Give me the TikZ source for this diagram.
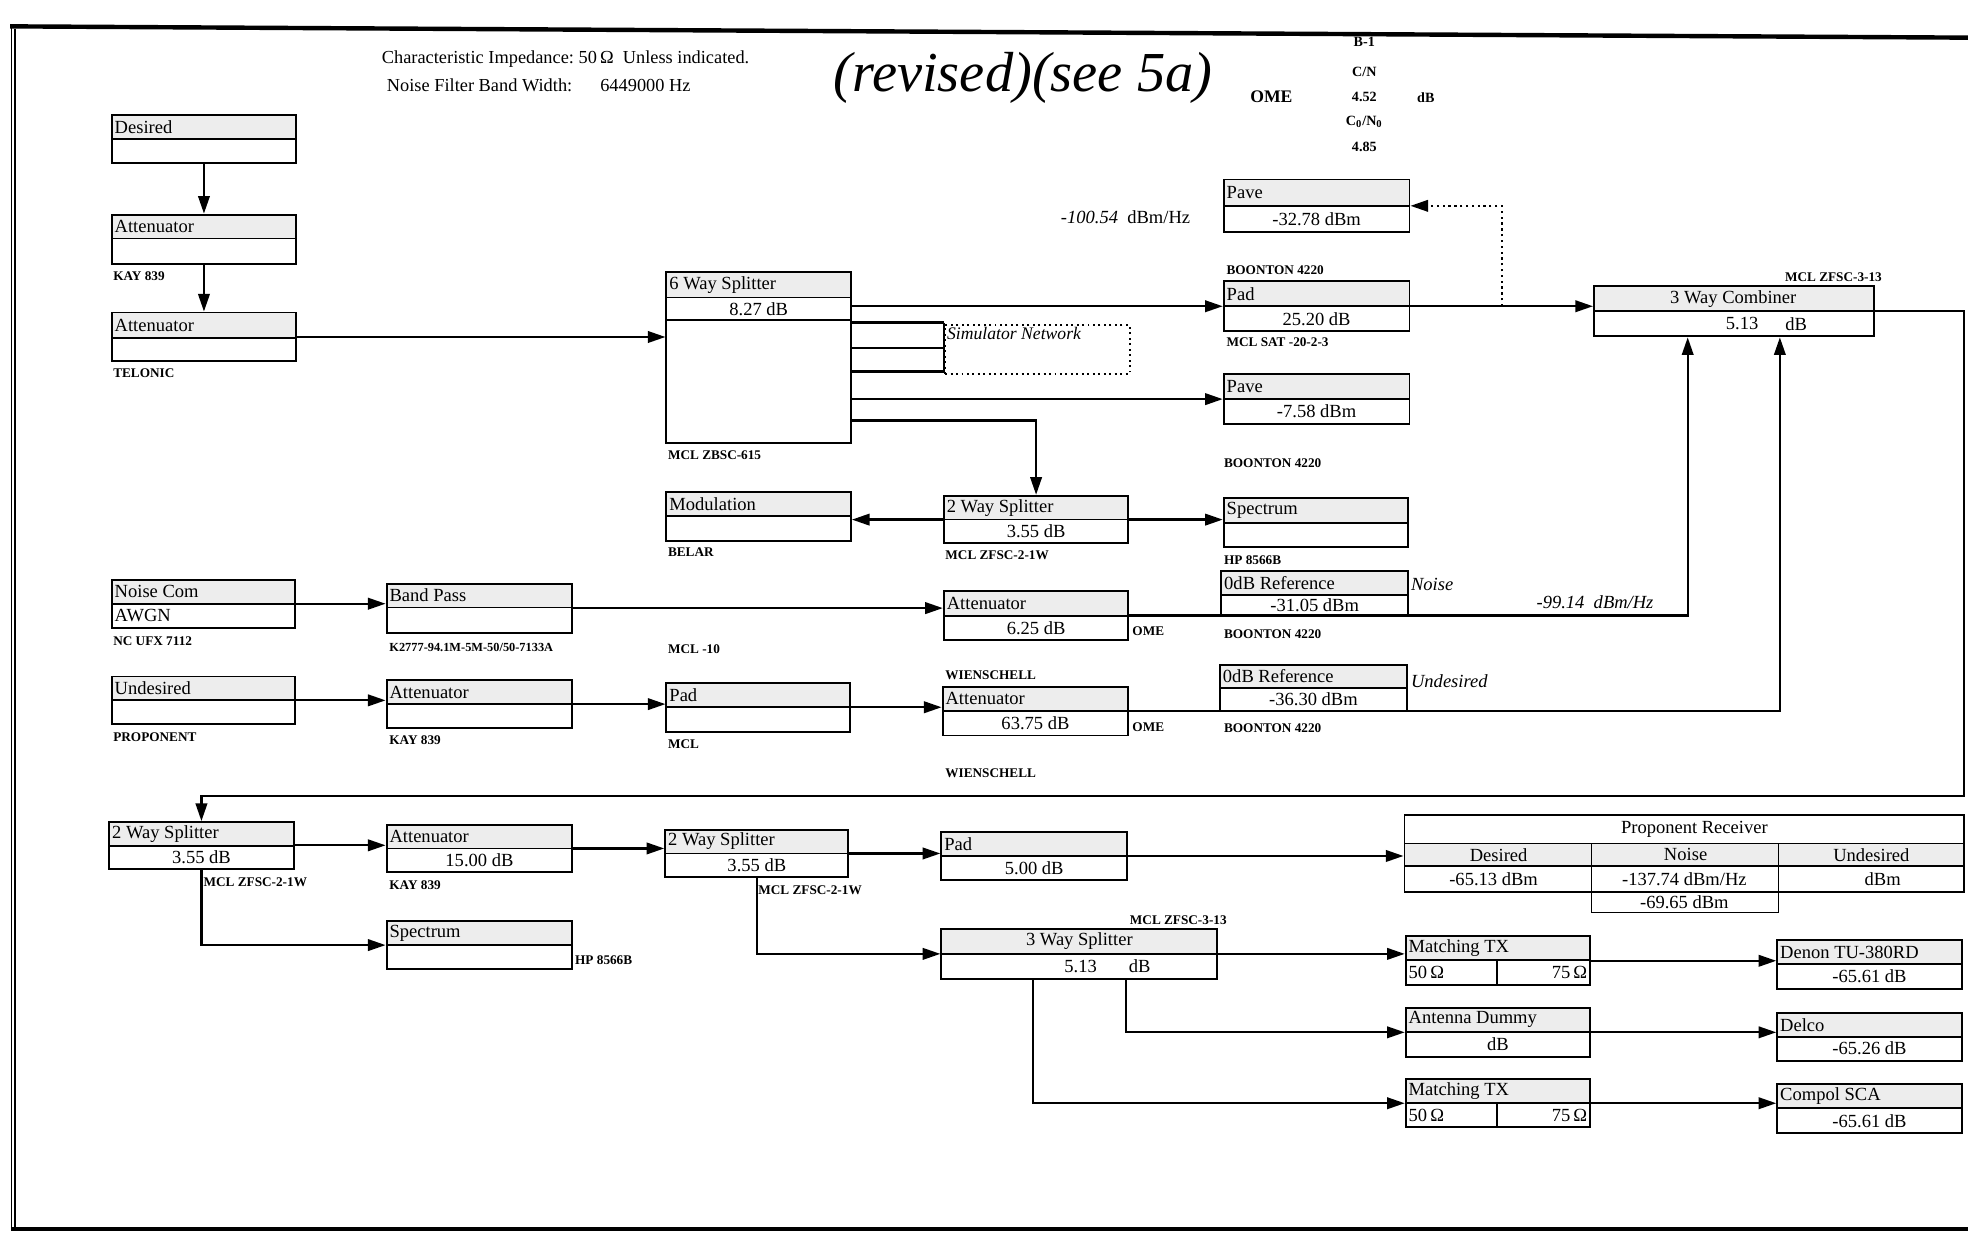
\documentclass[tikz,border=0pt]{standalone}
\usepackage{fontspec}
\setmainfont{Liberation Serif}
\usetikzlibrary{arrows.meta,fit,calc}

\tikzset{
  boxframe/.style={draw, line width=1.1pt, inner sep=0pt},
  hdr/.style={fill=black!7},
  divl/.style={line width=1pt},
  lbl/.style={font=\fontsize{10.5}{12}\selectfont, inner sep=1.5pt, anchor=west},
  val/.style={font=\fontsize{10.5}{12}\selectfont, inner sep=1pt},
  tag/.style={font=\bfseries\fontsize{7.5}{9}\selectfont, inner sep=0pt, anchor=west},
  note/.style={font=\fontsize{10.5}{12}\selectfont, inner sep=0pt, anchor=west},
  wire/.style={line width=1.3pt},
  arr/.style={wire, -{Triangle[length=10pt,width=6.5pt]}},
}

% name, x1, y1, x2, y2, ydiv, label, value
\newcommand\blk[8]{%
  \fill[hdr] (#2,#3) rectangle (#4,#6);
  \draw[divl] (#2,#6) -- (#4,#6);
  \node[boxframe, fit={(#2,#3) (#4,#5)}] (#1) {};
  \node[lbl] (#1-l) at (#2,{(#3+#6)/2}) {#7};
  \node[val] (#1-v) at ({(#2+#4)/2},{(#6+#5)/2}) {#8};
}

\begin{document}
\begin{tikzpicture}[x=0.025cm,y=-0.025cm]
\useasboundingbox (0,0) rectangle (1568,998);

% frame
\draw[line width=2.5pt] (8,21) -- (1568,30);
\draw[line width=0.8pt] (9,21) -- (9,980);
\draw[line width=0.8pt] (12,23) -- (12,978);
\draw[line width=2pt] (9,979) -- (1568,979);

% header
\node[note, font=\fontsize{10.4}{12}\selectfont] (h1) at (304,47) {Characteristic Impedance:\ 50\,Ω\ \ Unless indicated.};
\node[note, font=\fontsize{10.4}{12}\selectfont] (h2) at (308,68) {Noise Filter Band Width:};
\node[note, font=\fontsize{10.4}{12}\selectfont] (h3) at (478,68) {6449000 Hz};
\node[font=\itshape\fontsize{32}{32}\selectfont, inner sep=0pt] (hand) at (815,62) {(revised)(see 5a)};
\node[font=\bfseries\fontsize{10}{12}\selectfont, inner sep=0pt] (ome0) at (1013,77) {OME};
\node[font=\bfseries\fontsize{8}{9}\selectfont, inner sep=0pt] (b1) at (1087,33) {B-1};
\node[font=\bfseries\fontsize{8}{9}\selectfont, inner sep=0pt] (cn) at (1087,57) {C/N};
\node[font=\bfseries\fontsize{8}{9}\selectfont, inner sep=0pt] (cnv) at (1087,77) {4.52};
\node[font=\bfseries\fontsize{8}{9}\selectfont, inner sep=0pt] (cndb) at (1136,78) {dB};
\node[font=\bfseries\fontsize{8}{9}\selectfont, inner sep=0pt] (c0n0) at (1087,97) {C\textsubscript{0}/N\textsubscript{0}};
\node[font=\bfseries\fontsize{8}{9}\selectfont, inner sep=0pt] (c0n0v) at (1087,117) {4.85};

% left column
\blk{des}{89}{92}{236}{130}{111}{Desired}{}
\blk{att1}{89}{171}{236}{210}{190}{Attenuator}{}
\node[tag] (t-att1) at (90,220) {KAY 839};
\blk{att2}{89}{249}{236}{288}{269}{Attenuator}{}
\node[tag] (t-att2) at (90,297) {TELONIC};

% 6 way splitter
\fill[hdr] (531,217) rectangle (678,237);
\draw[divl] (531,237) -- (678,237);
\draw[divl] (531,255) -- (678,255);
\node[boxframe, fit={(531,217) (678,353)}] (split6) {};
\node[lbl] (split6-l) at (531,227) {6 Way Splitter};
\node[val] (split6-v) at (604.5,246) {8.27 dB};
\node[tag] (t-split6) at (532,363) {MCL ZBSC-615};

% simulator network
\node[draw, dotted, line width=1.1pt, inner sep=0pt, fit={(753,259) (900,298)}] (sim) {};
\node[anchor=north west, inner sep=1.5pt, font=\itshape\fontsize{10}{12}\selectfont] (sim-l) at (sim.north west) {Simulator Network};

% top right measurement chain
\blk{pave1}{975}{143}{1123}{185}{164}{Pave}{-32.78 dBm}
\node[note] (n100) at (845,173) {{\itshape -100.54}\ \ dBm/Hz};
\node[tag] (t-pad1a) at (977,215) {BOONTON 4220};
\blk{pad1}{975}{224}{1123}{264}{244}{Pad}{25.20 dB}
\node[tag] (t-pad1b) at (977,273) {MCL SAT -20-2-3};
\blk{pave2}{975}{298}{1123}{338}{318}{Pave}{-7.58 dBm}
\node[tag] (t-pave2) at (975,369) {BOONTON 4220};

% combiner
\fill[hdr] (1270,228) rectangle (1493,248);
\draw[divl] (1270,248) -- (1493,248);
\node[boxframe, fit={(1270,228) (1493,268)}] (comb) {};
\node[val] (comb-l) at (1381,238) {3 Way Combiner};
\node[val] (comb-v1) at (1388,258) {5.13};
\node[val] (comb-v2) at (1431,258) {dB};
\node[tag] (t-comb) at (1422,221) {MCL ZFSC-3-13};

% middle row
\blk{modu}{531}{392}{678}{431}{411}{Modulation}{}
\node[tag] (t-modu) at (532,440) {BELAR};
\blk{split2a}{752}{395}{899}{433}{414}{2 Way Splitter}{3.55 dB}
\node[tag] (t-split2a) at (753,442) {MCL ZFSC-2-1W};
\blk{spec1}{975}{397}{1122}{436}{417}{Spectrum}{}
\node[tag] (t-spec1) at (975,446) {HP 8566B};

% noise chain
\blk{noise}{89}{462}{235}{500}{481}{Noise Com}{}
\node[lbl] (noise-v2) at (89,490.5) {AWGN};
\node[tag] (t-noise) at (90,511) {NC UFX 7112};
\blk{bp}{308}{465}{456}{504}{484}{Band Pass}{}
\node[tag, font=\bfseries\fontsize{7}{8}\selectfont] (t-bp) at (310,516) {K2777-94.1M-5M-50/50-7133A};
\node[tag] (t-mcl10) at (532,517) {MCL -10};
\blk{att3}{752}{471}{899}{510}{490.5}{Attenuator}{6.25 dB}
\node[tag] (t-att3) at (902,503) {OME};
\blk{ref1}{973}{455}{1122}{490.5}{474}{0dB Reference}{-31.05 dBm}
\node[note, font=\itshape\fontsize{10.5}{12}\selectfont] (n-noise) at (1124,466) {Noise};
\node[tag] (t-ref1) at (975,505) {BOONTON 4220};
\node[note, font=\itshape\fontsize{10.5}{12}\selectfont] (n99) at (1224,480) {-99.14\ \ dBm/Hz};

% undesired chain
\blk{undes}{89}{539}{235}{577}{558}{Undesired}{}
\node[tag] (t-undes) at (90,587) {PROPONENT};
\blk{att4}{308}{542}{456}{580}{561}{Attenuator}{}
\node[tag] (t-att4) at (310,590) {KAY 839};
\blk{pad2}{531}{544}{677}{583}{563}{Pad}{}
\node[tag] (t-pad2) at (532,593) {MCL};
\node[tag] (t-att5a) at (753,538) {WIENSCHELL};
\blk{att5}{751}{547}{899}{586}{566.5}{Attenuator}{63.75 dB}
\node[tag] (t-att5b) at (902,579) {OME};
\node[tag] (t-att5c) at (753,616) {WIENSCHELL};
\blk{ref2}{972}{530}{1121}{566.5}{548}{0dB Reference}{-36.30 dBm}
\node[note, font=\itshape\fontsize{10.5}{12}\selectfont] (n-undes) at (1124,543) {Undesired};
\node[tag] (t-ref2) at (975,580) {BOONTON 4220};

% bottom section
\blk{split2b}{87}{655}{234}{692}{674}{2 Way Splitter}{3.55 dB}
\node[tag] (t-split2b) at (162,703) {MCL ZFSC-2-1W};
\blk{att6}{308}{657}{456}{695}{676}{Attenuator}{15.00 dB}
\node[tag] (t-att6) at (310,705) {KAY 839};
\blk{spec2}{308}{734}{456}{772}{753}{Spectrum}{}
\node[tag] (t-spec2) at (458,765) {HP 8566B};
\blk{split2c}{530}{661}{676}{699}{680}{2 Way Splitter}{3.55 dB}
\node[tag] (t-split2c) at (604,709) {MCL ZFSC-2-1W};
\blk{pad3}{750}{663}{898}{701}{682}{Pad}{5.00 dB}

% 3 way splitter
\fill[hdr] (750,740) rectangle (970,760);
\draw[divl] (750,760) -- (970,760);
\node[boxframe, fit={(750,740) (970,780)}] (split3) {};
\node[val] (split3-l) at (860,750) {3 Way Splitter};
\node[val] (split3-v1) at (861,770) {5.13};
\node[val] (split3-v2) at (908,770) {dB};
\node[tag] (t-split3) at (900,733) {MCL ZFSC-3-13};

% proponent receiver
\fill[hdr] (1119,672) rectangle (1565,690);
\node[boxframe, fit={(1119,649) (1565,711)}] (prop) {};
\draw[divl] (1119,672) -- (1565,672);
\draw[divl] (1119,690) -- (1565,690);
\draw[divl] (1268,672) -- (1268,727) -- (1417,727) -- (1417,672);
\node[val] (prop-t) at (1350,660.5) {Proponent Receiver};
\node[val] (prop-h1) at (1194,681) {Desired};
\node[val] (prop-h2) at (1343,681) {Noise};
\node[val] (prop-h3) at (1491,681) {Undesired};
\node[val] (prop-v1) at (1190,700.5) {-65.13 dBm};
\node[val] (prop-v2) at (1342,700.5) {-137.74 dBm/Hz};
\node[val] (prop-v3) at (1500,700.5) {dBm};
\node[val] (prop-v4) at (1342,719) {-69.65 dBm};

% receivers
\blk{mtx1}{1120}{746}{1267}{785}{765}{Matching TX}{}
\draw[divl] (1193,765) -- (1193,785);
\node[lbl] (mtx1-a) at (1120,775) {50\,Ω};
\node[lbl, anchor=east] (mtx1-b) at (1267,775) {75\,Ω};
\blk{denon}{1416}{749}{1563}{788}{768}{Denon TU-380RD}{-65.61 dB}
\blk{dummy}{1120}{803}{1267}{842}{822}{Antenna Dummy}{dB}
\blk{delco}{1416}{807}{1563}{845}{826}{Delco}{-65.26 dB}
\blk{mtx2}{1120}{860}{1267}{898}{879}{Matching TX}{}
\draw[divl] (1193,879) -- (1193,898);
\node[lbl] (mtx2-a) at (1120,888.5) {50\,Ω};
\node[lbl, anchor=east] (mtx2-b) at (1267,888.5) {75\,Ω};
\blk{compol}{1416}{864}{1563}{903}{883}{Compol SCA}{-65.61 dB}

% ---------------- connectors ----------------
\draw[arr] (des) -- (att1);
\draw[arr] (att1) -- (att2);
\draw[arr] (att2.east) -- (att2.east -| split6.west);
\draw[arr] (split6.east |- pad1.west) -- (pad1.west);
\draw[wire] (split6.east |- 0,257) -- (sim.west |- 0,257);
\draw[wire] (split6.east |- 0,277) -- (sim.west |- 0,277);
\draw[wire] (split6.east |- 0,296) -- (sim.west |- 0,296);
\draw[wire] (sim.west |- 0,257) -- (sim.west |- 0,296);
\draw[arr] (split6.east |- pave2.west) -- (pave2.west);
\draw[arr] (split6.east |- 0,335) -| (split2a.north);
\draw[arr] (split2a.west) -- (split2a.west -| modu.east);
\draw[arr] (split2a.east) -- (split2a.east -| spec1.west);

\draw[arr] (pad1.east) -- (pad1.east -| comb.west);
\coordinate (tap) at ($(pad1.east)!0.5!(pad1.east -| comb.west)$);
\draw[line width=1.3pt, dotted, -{Triangle[length=10pt,width=6.5pt]}] (tap) |- (pave1.east);

\draw[arr] (noise.east) -- (noise.east -| bp.west);
\draw[arr] (bp.east) -- (bp.east -| att3.west);
\draw[arr] (att3.east) -| ($(comb.south west)!0.336!(comb.south east)$);

\draw[arr] (undes.east) -- (undes.east -| att4.west);
\draw[arr] (att4.east) -- (att4.east -| pad2.west);
\draw[arr] (pad2.east) -- (pad2.east -| att5.west);
\draw[arr] (att5.east) -| ($(comb.south west)!0.663!(comb.south east)$);

\coordinate (loopc) at (1565,634);
\draw[arr] (comb.east) -| (loopc) -| (split2b.north);

\draw[arr] (split2b.east) -- (split2b.east -| att6.west);
\draw[arr] (att6.east) -- (att6.east -| split2c.west);
\draw[arr] (split2c.east) -- (split2c.east -| pad3.west);
\draw[arr] (pad3.east) -- (pad3.east -| prop.west);
\draw[arr] (split2b.south) |- (spec2.west);
\draw[arr] (split2c.south) |- (split3.west);

\draw[arr] (split3.east) -- (split3.east -| mtx1.west);
\draw[arr] ($(split3.south west)!0.668!(split3.south east)$) |- (dummy.west);
\draw[arr] ($(split3.south west)!0.332!(split3.south east)$) |- (mtx2.west);
\draw[arr] (mtx1.east) -- (mtx1.east -| denon.west);
\draw[arr] (dummy.east) -- (dummy.east -| delco.west);
\draw[arr] (mtx2.east) -- (mtx2.east -| compol.west);
\end{tikzpicture}
\end{document}
